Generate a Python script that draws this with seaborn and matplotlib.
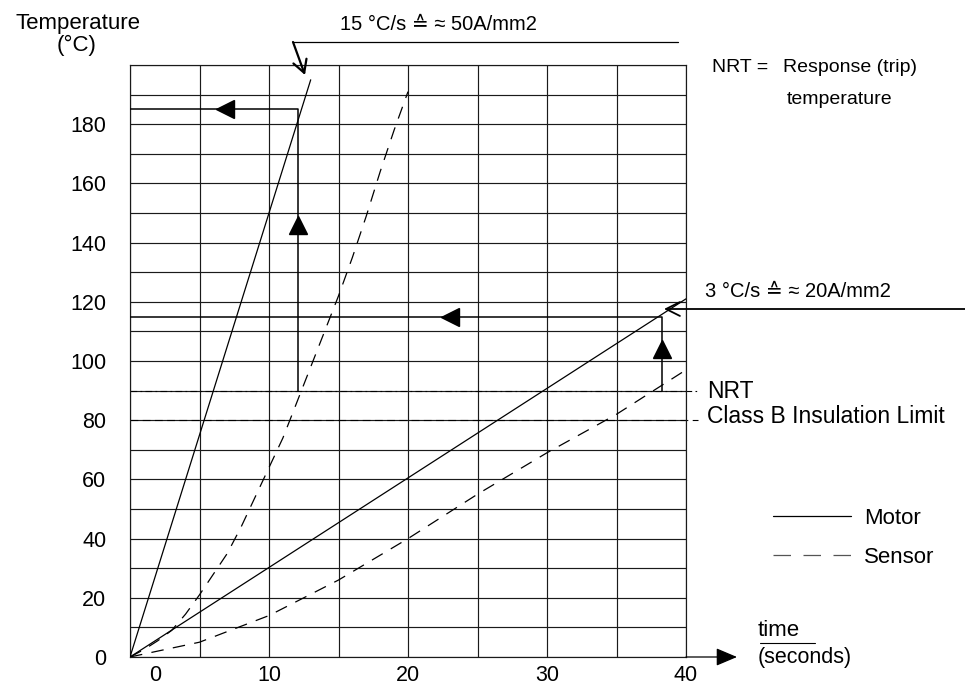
"""Motor / sensor temperature rise chart (NRT trip response)"""
import matplotlib

matplotlib.use("Agg")
import matplotlib.pyplot as plt
import matplotlib.transforms as mtransforms
import pandas as pd
import seaborn as sns
from matplotlib.lines import Line2D

# heating curves, time (s) against temperature (°C)
motor_fast_t = [0, 13]
motor_fast_T = [0, 195]
sensor_fast_t = [0, 1, 2, 3, 4, 5, 6, 7, 8, 9, 10, 11, 12, 13, 14, 15, 16, 17, 18, 19, 20]
sensor_fast_T = [0, 2.5, 5.5, 9, 14.5, 21, 28, 35, 44, 54, 64, 74, 86, 98, 110, 122, 135, 149, 164, 178, 191]
motor_slow_t = [0, 40]
motor_slow_T = [0, 121]
sensor_slow_t = [0, 2, 5, 10, 15, 20, 25, 30, 35, 40]
sensor_slow_T = [0, 2, 5, 14, 26, 40, 55, 69, 82, 97]

nrt_temp = 90
class_b_temp = 80

# trip paths: sensor hits NRT -> motor temperature at that moment
fast_path_t = [12.1, 12.1, 0]
fast_path_T = [90, 185, 185]
slow_path_t = [38.3, 38.3, 0]
slow_path_T = [90, 115, 115]
up_arrows_t = [12.1, 38.3]
up_arrows_T = [146, 104]
left_arrows_t = [6.8, 23]
left_arrows_T = [185, 115]

x_ticks = [0, 10, 20, 30, 40]
x_grid = [0, 5, 10, 15, 20, 25, 30, 35, 40]
y_ticks = [0, 20, 40, 60, 80, 100, 120, 140, 160, 180]
y_grid = [10, 30, 50, 70, 90, 110, 130, 150, 170, 190, 200]

W, H = 965, 690
NARROW = ["Liberation Sans Narrow", "Liberation Sans", "DejaVu Sans"]
PLAIN = ["Liberation Sans", "DejaVu Sans"]


def fig_xy(px, py):
    """pixel position (from top-left) to figure fraction"""
    return px / W, 1 - py / H


sns.set_theme(style="white")
plt.rcParams["font.family"] = PLAIN
plt.rcParams["text.color"] = "black"

fig = plt.figure(figsize=(W / 100, H / 100), dpi=100)
ax = fig.add_axes([130 / W, 33 / H, 556 / W, 592 / H])

curves = pd.concat(
    [
        pd.DataFrame({"t": motor_fast_t, "T": motor_fast_T, "curve": "mf", "kind": "Motor"}),
        pd.DataFrame({"t": sensor_fast_t, "T": sensor_fast_T, "curve": "sf", "kind": "Sensor"}),
        pd.DataFrame({"t": motor_slow_t, "T": motor_slow_T, "curve": "ms", "kind": "Motor"}),
        pd.DataFrame({"t": sensor_slow_t, "T": sensor_slow_T, "curve": "ss", "kind": "Sensor"}),
    ],
    ignore_index=True,
)

sns.lineplot(
    data=curves, x="t", y="T", units="curve", estimator=None, sort=False,
    style="kind", dashes={"Motor": "", "Sensor": (10, 7.5)},
    color="black", lw=0.9, legend=False, ax=ax, zorder=3,
)

ax.set_xlim(0, 40)
ax.set_ylim(0, 200)
ax.set_xlabel("")
ax.set_ylabel("")
ax.set_xticks(x_ticks)
ax.set_xticks(x_grid, minor=True)
ax.set_yticks(y_ticks)
ax.set_yticks(y_grid, minor=True)
ax.grid(which="both", color="#1a1a1a", lw=0.85)
ax.tick_params(which="both", length=0, labelsize=15.5, labelcolor="black")
ax.tick_params(axis="x", pad=6)
ax.tick_params(axis="y", pad=17)
for spine in ax.spines.values():
    spine.set_color("#1a1a1a")
    spine.set_linewidth(0.85)

# the "0" of the time axis sits right of the origin in the original
zero_lbl = ax.xaxis.get_major_ticks()[0].label1
zero_lbl.set_transform(zero_lbl.get_transform()
                       + mtransforms.ScaledTranslation(0.25, 0, fig.dpi_scale_trans))

# NRT and class B limits
ax.axhline(nrt_temp, xmax=1.022, clip_on=False, color="black", lw=0.8,
           ls=(0, (6, 3, 1.5, 3)))
ax.axhline(class_b_temp, xmax=1.022, clip_on=False, color="black", lw=0.8,
           ls=(0, (7, 4)))

# trip paths with their arrows
ax.plot(fast_path_t, fast_path_T, color="black", lw=1.1, zorder=3)
ax.plot(slow_path_t, slow_path_T, color="black", lw=1.1, zorder=3)
ax.plot(up_arrows_t, up_arrows_T, ls="none", marker="^", ms=13, color="black", zorder=4)
ax.plot(left_arrows_t, left_arrows_T, ls="none", marker="<", ms=13, color="black", zorder=4)

# time axis arrow
ax.annotate("", xy=(737, H - 657), xycoords="figure pixels",
            xytext=(686, H - 657), textcoords="figure pixels",
            arrowprops=dict(arrowstyle="-|>,head_length=1.3,head_width=0.55",
                            mutation_scale=10, color="black", lw=0.9,
                            shrinkA=0, shrinkB=0))

# 15 °C/s call-out
fig.add_artist(Line2D([678 / W, 293 / W], [1 - 42 / H, 1 - 42 / H],
                      color="black", lw=0.9, transform=fig.transFigure))
ax.annotate("", xy=(305, H - 75), xycoords="figure pixels",
            xytext=(293, H - 42), textcoords="figure pixels",
            arrowprops=dict(arrowstyle="->,head_length=0.9,head_width=0.5",
                            mutation_scale=10, color="black", lw=1.6,
                            shrinkA=0, shrinkB=0))
fig.text(*fig_xy(340, 24), "15 °C/s ≙ ≈ 50A/mm2", family=NARROW, fontsize=14.5,
         ha="left", va="center")

# 3 °C/s call-out
ax.annotate("", xy=(664, H - 309), xycoords="figure pixels",
            xytext=(965, H - 309), textcoords="figure pixels",
            arrowprops=dict(arrowstyle="->,head_length=1.0,head_width=0.5",
                            mutation_scale=10, color="black", lw=1.3,
                            shrinkA=0, shrinkB=0))
fig.text(*fig_xy(705, 292), "3 °C/s ≙ ≈ 20A/mm2", family=NARROW, fontsize=14.5,
         ha="left", va="center")

# right hand notes
fig.text(*fig_xy(712, 68), "NRT =", family=NARROW, fontsize=14, ha="left", va="center")
fig.text(*fig_xy(783, 68), "Response (trip)", family=NARROW, fontsize=14,
         ha="left", va="center")
fig.text(*fig_xy(787, 100), "temperature", family=NARROW, fontsize=14,
         ha="left", va="center")
fig.text(*fig_xy(707, 392), "NRT", family=NARROW, fontsize=16.5, ha="left", va="center")
fig.text(*fig_xy(707, 417), "Class B Insulation Limit", family=NARROW, fontsize=16.5,
         ha="left", va="center")

# axis titles
fig.text(*fig_xy(78, 23), "Temperature", fontsize=16, ha="center", va="center")
fig.text(*fig_xy(77, 45), "(°C)", fontsize=16, ha="center", va="center")
fig.text(*fig_xy(758, 630), "time", family=NARROW, fontsize=16, ha="left", va="center")
fig.add_artist(Line2D([760 / W, 815 / W], [1 - 643 / H, 1 - 643 / H],
                      color="black", lw=0.8, transform=fig.transFigure))
fig.text(*fig_xy(758, 658), "(seconds)", family=NARROW, fontsize=15.5, ha="left",
         va="center")

# legend
handles = [
    Line2D([], [], color="black", lw=0.9),
    Line2D([], [], color="#555555", lw=0.9, dashes=(14, 10)),
]
leg = ax.legend(handles, ["Motor", "Sensor"], loc="upper left",
                bbox_to_anchor=fig_xy(773, 508), bbox_transform=fig.transFigure,
                frameon=False, borderpad=0, borderaxespad=0, handlelength=3.5,
                handletextpad=0.6, labelspacing=0.8,
                prop={"family": NARROW, "size": 16})

fig.savefig("out.png", dpi=100)
